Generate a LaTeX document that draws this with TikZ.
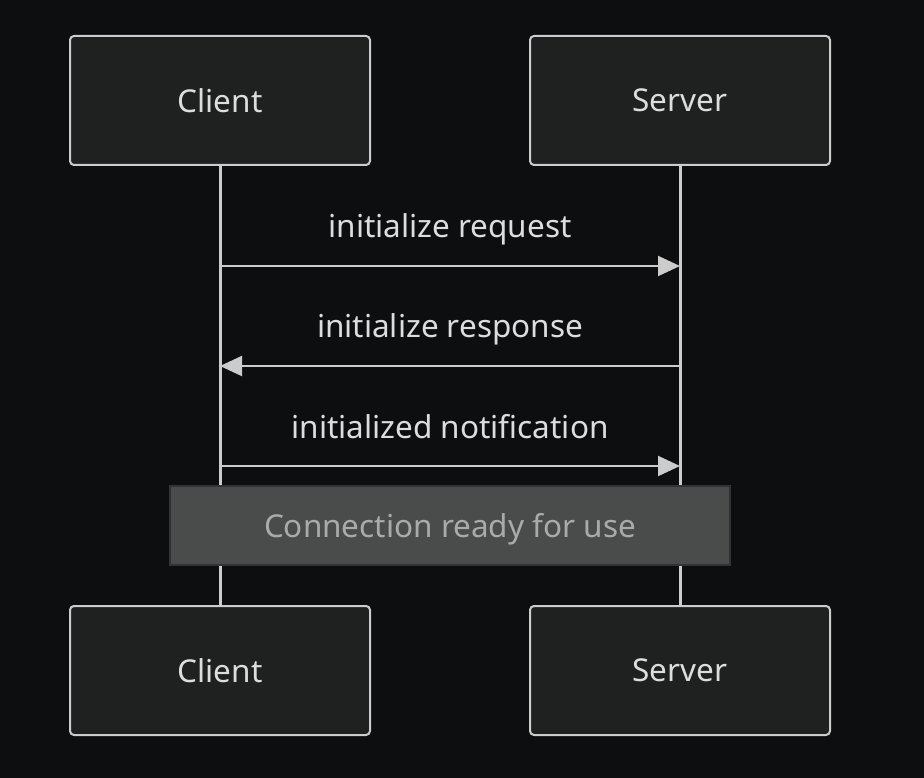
\documentclass[tikz,border=0pt]{standalone}
\usepackage{fontspec}
\setmainfont{Noto Sans}
\usetikzlibrary{arrows.meta}
\definecolor{bgcol}{HTML}{0D0E10}
\definecolor{boxfill}{HTML}{1F2020}
\definecolor{linecol}{HTML}{CCCCCC}
\definecolor{textcol}{HTML}{DDDDDD}
\definecolor{notefill}{HTML}{4A4C4B}
\definecolor{noteline}{HTML}{333333}
\definecolor{notetext}{HTML}{AAAAAA}
\tikzset{
	actor/.style={draw=linecol,fill=boxfill,line width=2pt,rounded corners=4pt,minimum width=300pt,minimum height=129pt,inner sep=0pt,text=textcol,font=\fontsize{31.5}{36}\selectfont},
	msg/.style={draw=linecol,line width=2pt,-{Triangle[length=22pt,width=20pt]}},
	msglabel/.style={text=textcol,text depth=0pt,font=\fontsize{31.5}{36}\selectfont},
	notebox/.style={draw=noteline,fill=notefill,line width=2pt,minimum width=560pt,minimum height=79pt,inner sep=0pt,text depth=0pt,text=notetext,font=\fontsize{31.5}{36}\selectfont},
}
\begin{document}
\begin{tikzpicture}[x=1pt,y=-1pt]
	\fill[bgcol] (0,0) rectangle (924,778);
	\useasboundingbox (0,0) rectangle (924,778);
	% participants
	\node [actor] (client) at (220,100.5) {Client};
	\node [actor] (server) at (680,100.5) {Server};
	\node [actor] (clientb) at (220,670.5) {Client};
	\node [actor] (serverb) at (680,670.5) {Server};
	% lifelines
	\draw[linecol,line width=3pt] (client) -- (clientb);
	\draw[linecol,line width=3pt] (server) -- (serverb);
	% message ends
	\coordinate (c1) at (220,266);
	\coordinate (s1) at (680,266);
	\coordinate (c2) at (220,366);
	\coordinate (s2) at (680,366);
	\coordinate (c3) at (220,466);
	\coordinate (s3) at (680,466);
	\draw [msg] (c1) -- (s1);
	\draw [msg] (s2) -- (c2);
	\draw [msg] (c3) -- (s3);
	\node [msglabel] (req) at (450,226) {initialize request};
	\node [msglabel] (resp) at (450,326) {initialize response};
	\node [msglabel] (notif) at (450,426) {initialized notification};
	% note
	\node [notebox] (ready) at (450,525.5) {Connection ready for use};
\end{tikzpicture}
\end{document}
